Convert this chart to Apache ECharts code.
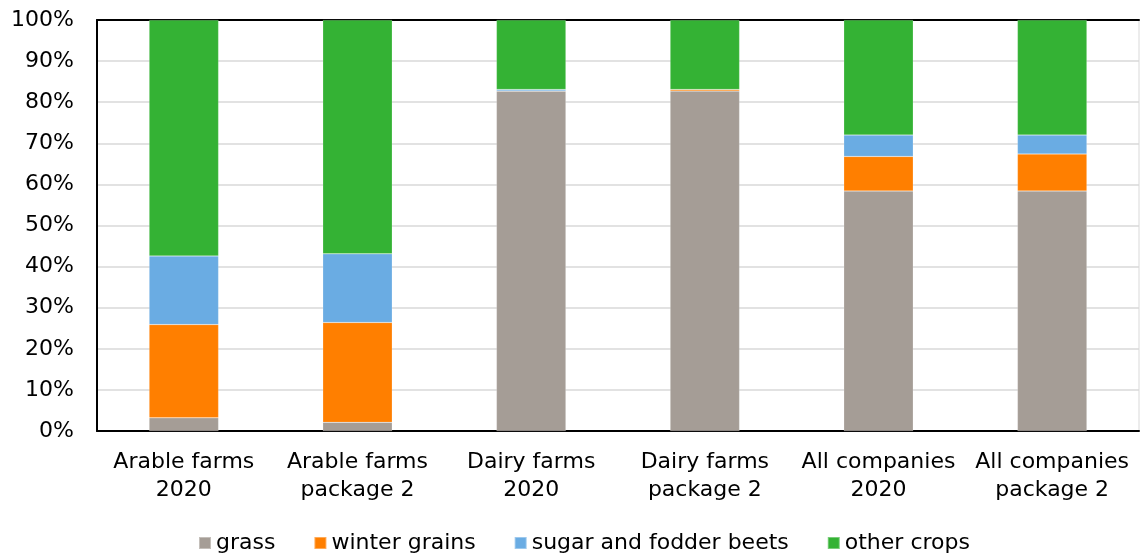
<!DOCTYPE html>
<html><head><meta charset="utf-8">
<script src="https://cdn.jsdelivr.net/npm/echarts@6/dist/echarts.min.js"></script>
<style>html,body{margin:0;padding:0;background:#fff}#c{width:1140px;height:553px}</style>
</head><body><div id="c"></div>
<script>
const categories = ['Arable farms\n2020', 'Arable farms\npackage 2', 'Dairy farms\n2020', 'Dairy farms\npackage 2', 'All companies\n2020', 'All companies\npackage 2'];
const grass = [3.2, 2.1, 82.7, 82.7, 58.4, 58.4];
const winterGrains = [22.7, 24.3, 0, 0.4, 8.4, 9.0];
const sugarBeets = [16.7, 16.7, 0.4, 0, 5.2, 4.6];
const otherCrops = [57.4, 56.9, 16.9, 16.9, 28.0, 28.0];
const seriesNames = ['grass', 'winter grains', 'sugar and fodder beets', 'other crops'];
const colors = ['#A59D96', '#FF7F00', '#6AACE3', '#34B234'];
const FONT = 'DejaVu Sans';
const chart = echarts.init(document.getElementById('c'), null, {renderer: 'canvas'});
const mk = (name, data, i) => ({
  name, type: 'bar', stack: 'a', data, barWidth: '40%',
  itemStyle: {color: colors[i], borderColor: 'rgba(255,255,255,0.35)', borderWidth: 0.5},
  emphasis: {disabled: true}
});
chart.setOption({
  animation: false,
  textStyle: {fontFamily: FONT},
  color: colors,
  grid: {left: 97, right: 1, top: 20, bottom: 122, show: true, borderColor: '#d9d9d9', borderWidth: 1},
  legend: {
    top: 527, left: 193, itemWidth: 12, itemHeight: 12, itemGap: 38,
    icon: 'rect', textStyle: {fontFamily: FONT, fontSize: 22, color: '#000'},
    data: seriesNames
  },
  xAxis: [{
    type: 'category', data: categories,
    axisLine: {lineStyle: {color: '#000', width: 2}},
    axisTick: {show: false},
    axisLabel: {fontFamily: FONT, fontSize: 22, color: '#000', lineHeight: 28, margin: 17, interval: 0}
  }, {
    type: 'category', data: categories, position: 'top',
    axisLine: {lineStyle: {color: '#000', width: 2}},
    axisTick: {show: false}, axisLabel: {show: false}
  }],
  yAxis: {
    type: 'value', min: 0, max: 100, interval: 10,
    axisLine: {show: true, lineStyle: {color: '#000', width: 2}},
    axisTick: {show: false},
    splitLine: {lineStyle: {color: '#d9d9d9', width: 1.5}},
    axisLabel: {fontFamily: FONT, fontSize: 22, color: '#000', margin: 23, formatter: '{value}%'}
  },
  series: [
    mk(seriesNames[0], grass, 0),
    mk(seriesNames[1], winterGrains, 1),
    mk(seriesNames[2], sugarBeets, 2),
    mk(seriesNames[3], otherCrops, 3)
  ]
});
</script></body></html>
